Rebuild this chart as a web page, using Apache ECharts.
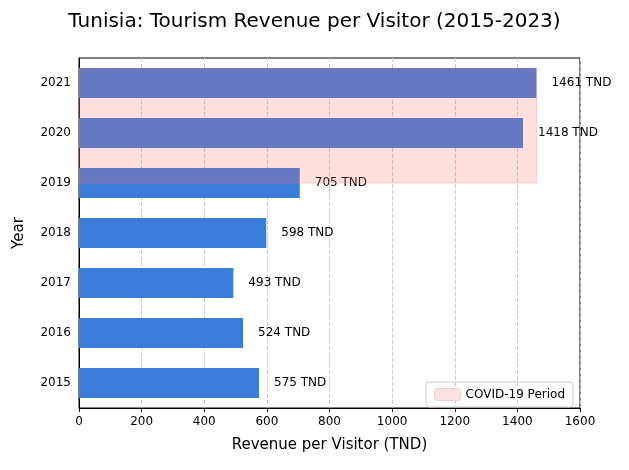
<!DOCTYPE html>
<html><head><meta charset="utf-8">
<script src="https://cdn.jsdelivr.net/npm/echarts@6/dist/echarts.min.js"></script>
<style>html,body{margin:0;background:#fff}#c{width:629px;height:470px}</style>
</head><body><div id="c"></div>
<script>
var years = ['2015', '2016', '2017', '2018', '2019', '2020', '2021'];
var revenue = [575, 524, 493, 598, 705, 1418, 1461];
// shaded period: from 2019 to 2021 (category indices), up to the 2021 value
var covidSpan = [4, 6];
var covidMax = 1461;

var chart = echarts.init(document.getElementById('c'));
var font = 'DejaVu Sans';
chart.setOption({
    animation: false,
    textStyle: {fontFamily: font},
    title: {text: 'Tunisia: Tourism Revenue per Visitor (2015-2023)', left: 'center', top: 7,
        textStyle: {fontSize: 20, fontWeight: 'normal', color: '#000', fontFamily: font}},
    grid: {left: 79, right: 49, top: 58, bottom: 62, show: true, borderColor: '#000', borderWidth: 1},
    legend: {right: 56, bottom: 63, orient: 'vertical', itemWidth: 26, itemHeight: 12,
        borderColor: '#ccc', borderWidth: 1, borderRadius: 3, padding: [6, 8],
        textStyle: {fontSize: 12, color: '#000'}, data: [{name: 'COVID-19 Period', itemStyle: {color: '#ffe2e2', borderColor: '#f9c8c8', borderWidth: 1}}]},
    xAxis: {type: 'value', min: 0, max: 1600, interval: 200, name: 'Revenue per Visitor (TND)',
        nameLocation: 'middle', nameGap: 30, nameTextStyle: {fontSize: 15, color: '#000'},
        axisLine: {show: true, lineStyle: {color: '#000'}}, axisTick: {show: true, length: 4},
        axisLabel: {color: '#000', fontSize: 12, formatter: function (v) { return String(v); }},
        splitLine: {show: true, lineStyle: {type: 'dashed', color: '#ccc'}}},
    yAxis: {type: 'category', data: years, name: 'Year', nameLocation: 'middle', nameGap: 52,
        nameTextStyle: {fontSize: 15, color: '#000'},
        axisLine: {lineStyle: {color: '#000'}}, axisTick: {alignWithLabel: true, length: 4},
        axisLabel: {color: '#000', fontSize: 12}},
    series: [{
        type: 'bar', data: revenue, barWidth: '60%', itemStyle: {color: '#3b7dd8'},
        label: {show: true, position: 'right', distance: 15, color: '#000', fontSize: 12,
            formatter: function (p) { return p.value + ' TND'; }}
    }, {
        name: 'COVID-19 Period', type: 'custom', z: 5, data: [[covidMax, covidSpan[0], covidSpan[1]]],
        renderItem: function (params, api) {
            var a = api.coord([0, api.value(1)]);
            var b = api.coord([api.value(0), api.value(2)]);
            var h = api.size([0, 1])[1] * 0.3;
            return {type: 'rect', shape: {x: a[0], y: b[1] - h, width: b[0] - a[0], height: a[1] - b[1] + h},
                style: {fill: 'rgba(255,110,110,0.22)', stroke: 'rgba(255,120,120,0.3)'}};
        },
        itemStyle: {color: '#ffe2e2'}
    }]
});
</script></body></html>
